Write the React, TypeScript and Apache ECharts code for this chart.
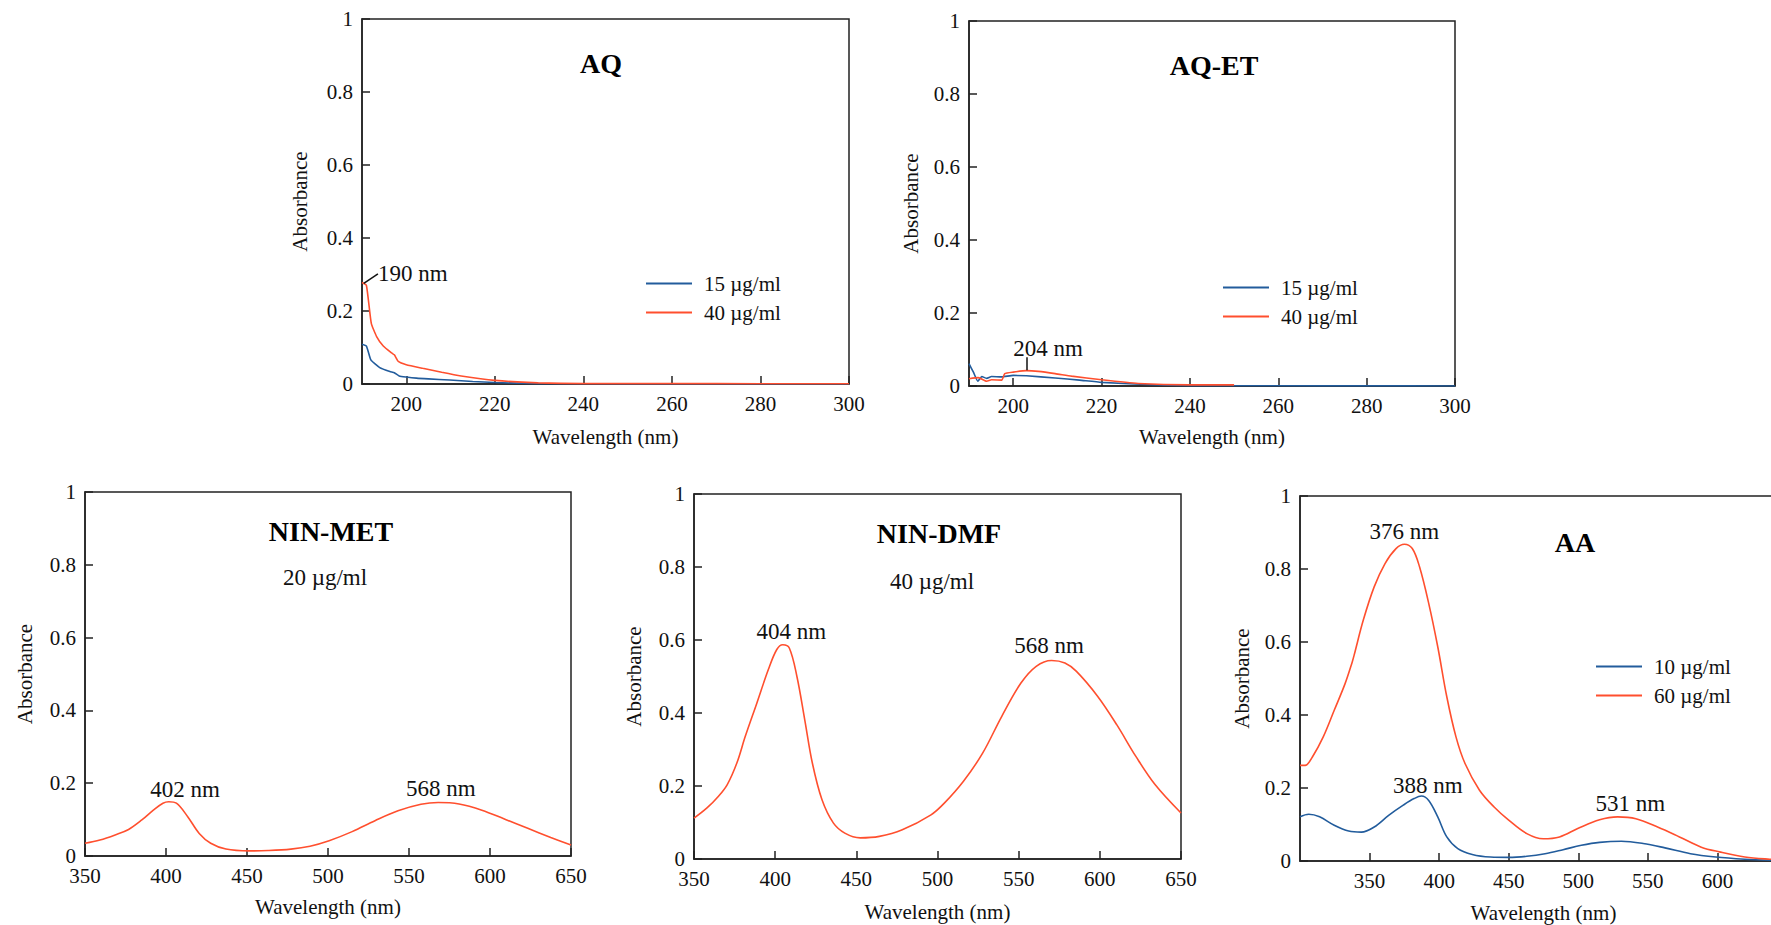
import React, { useEffect, useRef } from 'react';
import * as echarts from 'echarts';

const FONT = '"Liberation Serif", "Times New Roman", Times, serif';
const RED = '#ff4f2e';
const BLUE = '#225c9c';
const AXIS = '#222';

// ---- tick labels ----
const yTickLabels = ['0', '0.2', '0.4', '0.6', '0.8', '1'];
const xTicksAQ = [200, 220, 240, 260, 280, 300];
const xTicksNIN = [350, 400, 450, 500, 550, 600, 650];
const xTicksAA = [350, 400, 450, 500, 550, 600, 650];
const xLabelsAA = [350, 400, 450, 500, 550, 600];

// ---- AQ ----
const aq15: [number, number][] = [
  [190, 0.109], [191, 0.104], [192, 0.066], [194, 0.045], [196.3, 0.034], [197.3, 0.031],
  [198.4, 0.022], [200, 0.019], [202.3, 0.016], [205, 0.014], [209.8, 0.011], [215, 0.007],
  [220, 0.004], [230, 0.001], [240, 0.0005], [260, 0.0003], [280, 0.0002], [300, 0.0002],
];
const aq40: [number, number][] = [
  [190, 0.278], [191, 0.27], [192.1, 0.166], [193.3, 0.13], [194.8, 0.104], [196.7, 0.085],
  [197.3, 0.08], [198.2, 0.062], [200, 0.053], [203.7, 0.043], [208, 0.032], [212.4, 0.022],
  [220, 0.01], [229.7, 0.003], [240, 0.001], [260, 0.001], [280, 0.0008], [300, 0.0008],
];

// ---- AQ-ET ----
const aqet15: [number, number][] = [
  [190, 0.061], [191, 0.038], [192, 0.013], [192.9, 0.026], [194, 0.021], [195.1, 0.026],
  [197.4, 0.025], [200, 0.029], [203, 0.028], [209.5, 0.022], [215, 0.016], [220, 0.01],
  [230, 0.004], [240, 0.001], [260, 0.0005], [280, 0.0003], [300, 0.0002],
];
const aqet40: [number, number][] = [
  [190, 0.02], [192.1, 0.023], [194, 0.013], [195.1, 0.017], [197.4, 0.016], [198.1, 0.034],
  [200, 0.038], [203, 0.042], [205.7, 0.04], [209.5, 0.034], [213.2, 0.027], [220, 0.017],
  [228.3, 0.007], [240, 0.003], [250, 0.003],
];

// ---- NIN-MET (20 µg/ml) ----
const ninMet: [number, number][] = [
  [350, 0.035], [359.2, 0.044], [368.6, 0.058], [376.9, 0.073], [385.1, 0.099], [392.2, 0.126],
  [398.1, 0.145], [401.7, 0.149], [406.4, 0.145], [413.4, 0.108], [420.5, 0.062], [427.6, 0.035],
  [437, 0.019], [451.2, 0.014], [463, 0.015], [477.1, 0.019], [488.9, 0.027], [500.7, 0.042],
  [514.9, 0.067], [529, 0.097], [543.2, 0.124], [557.4, 0.142], [568, 0.147], [580.9, 0.143],
  [595, 0.126], [609.2, 0.101], [623.3, 0.076], [637.5, 0.051], [650, 0.03],
];

// ---- NIN-DMF (40 µg/ml) ----
const ninDmf: [number, number][] = [
  [350, 0.112], [358, 0.14], [365.1, 0.172], [370.5, 0.204], [376.4, 0.263], [381.6, 0.336],
  [388.7, 0.427], [395.8, 0.519], [401, 0.574], [404.7, 0.587], [408.7, 0.578], [413.4, 0.5],
  [418.2, 0.382], [422.9, 0.263], [428.8, 0.163], [435.8, 0.099], [442.9, 0.071], [452.4, 0.058],
  [464.2, 0.062], [478.3, 0.08], [496, 0.121], [504.2, 0.153], [516, 0.213], [527.8, 0.29],
  [539.6, 0.391], [551.4, 0.482], [560.8, 0.528], [570.3, 0.544], [578.5, 0.537], [585.6, 0.514],
  [598.6, 0.446], [610.4, 0.368], [622.2, 0.281], [634, 0.204], [650, 0.126],
];

// ---- AA ----
const aa10: [number, number][] = [
  [300, 0.121], [306.3, 0.128], [314.1, 0.121], [324.6, 0.098], [335, 0.082], [344.1, 0.079],
  [353.3, 0.093], [363.7, 0.125], [374.2, 0.153], [382, 0.171], [387.3, 0.178], [392.5, 0.166],
  [399, 0.121], [405.5, 0.066], [413.4, 0.034], [423.8, 0.018], [436.9, 0.011], [450, 0.01],
  [463, 0.013], [476.1, 0.02], [489.1, 0.031], [502.2, 0.043], [515.3, 0.051], [531, 0.054],
  [546.6, 0.048], [562.3, 0.036], [580.6, 0.02], [598.9, 0.011], [619.7, 0.005], [637.5, 0.002],
  [650, 0.001],
];
const aa60: [number, number][] = [
  [300, 0.262], [303.7, 0.262], [308.9, 0.285], [316.7, 0.34], [324.6, 0.413], [332.4, 0.486],
  [337.6, 0.546], [338.9, 0.564], [345.5, 0.66], [353.3, 0.751], [361.1, 0.815], [369, 0.856],
  [375, 0.868], [380.7, 0.856], [385.9, 0.806], [392.5, 0.706], [399, 0.587], [405.5, 0.45],
  [412.1, 0.34], [418.6, 0.267], [429, 0.194], [439.5, 0.148], [450, 0.112], [463, 0.075],
  [474.8, 0.061], [486.5, 0.066], [499.6, 0.089], [515.3, 0.113], [528.3, 0.121], [541.4, 0.116],
  [557, 0.093], [572.7, 0.066], [588.4, 0.038], [601.5, 0.025], [619.7, 0.011], [637.5, 0.005],
  [650, 0.003],
];

// ---- annotations (data coordinates of label centres / leader lines) ----
const aqNotes = [{ text: '190 nm', at: [201.5, 0.304] }];
const aqLeaders = [[[190.4, 0.276], [193.6, 0.302]]];
const aqetNotes = [{ text: '204 nm', at: [207.9, 0.103] }];
const aqetLeaders = [[[203, 0.043], [203, 0.079]]];
const ninMetNotes = [
  { text: '402 nm', at: [411.7, 0.183] },
  { text: '568 nm', at: [569.6, 0.186] },
];
const ninDmfNotes = [
  { text: '404 nm', at: [410, 0.622] },
  { text: '568 nm', at: [568.7, 0.584] },
];
const aa60Notes = [
  { text: '376 nm', at: [375, 0.902] },
  { text: '531 nm', at: [537.4, 0.157] },
];
const aa10Notes = [{ text: '388 nm', at: [391.9, 0.208] }];

type Ser = { name: string; data: [number, number][]; color: string; notes?: any[]; leaders?: any[] };

const panels: any[] = [
  {
    grid: { left: 362, top: 19, width: 487, height: 365 },
    xMin: 190, xMax: 300, xTicks: xTicksAQ, xLabels: xTicksAQ, xNameGap: 42, yNameGap: 52, smooth: 0.15,
    series: [
      { name: '15 µg/ml', data: aq15, color: BLUE },
      { name: '40 µg/ml', data: aq40, color: RED, notes: aqNotes, leaders: aqLeaders },
    ] as Ser[],
    legend: { left: 646, top: 273 },
    title: { text: 'AQ', x: 601, y: 63 },
  },
  {
    grid: { left: 969, top: 21, width: 486, height: 365 },
    xMin: 190, xMax: 300, xTicks: xTicksAQ, xLabels: xTicksAQ, xNameGap: 40, yNameGap: 48, smooth: 0.15,
    series: [
      { name: '15 µg/ml', data: aqet15, color: BLUE },
      { name: '40 µg/ml', data: aqet40, color: RED, notes: aqetNotes, leaders: aqetLeaders },
    ] as Ser[],
    legend: { left: 1223, top: 277 },
    title: { text: 'AQ-ET', x: 1214, y: 65 },
  },
  {
    grid: { left: 85, top: 492, width: 486, height: 364 },
    xMin: 350, xMax: 650, xTicks: xTicksNIN, xLabels: xTicksNIN, xNameGap: 40, yNameGap: 50, smooth: 0.35,
    series: [{ name: '20 µg/ml', data: ninMet, color: RED, notes: ninMetNotes }] as Ser[],
    title: { text: 'NIN-MET', x: 331, y: 531 },
    sub: { text: '20 µg/ml', x: 325, y: 577 },
  },
  {
    grid: { left: 694, top: 494, width: 487, height: 365 },
    xMin: 350, xMax: 650, xTicks: xTicksNIN, xLabels: xTicksNIN, xNameGap: 42, yNameGap: 50, smooth: 0.35,
    series: [{ name: '40 µg/ml', data: ninDmf, color: RED, notes: ninDmfNotes }] as Ser[],
    title: { text: 'NIN-DMF', x: 939, y: 533 },
    sub: { text: '40 µg/ml', x: 932, y: 581 },
  },
  {
    grid: { left: 1300, top: 496, width: 487, height: 365 },
    xMin: 300, xMax: 650, xTicks: xTicksAA, xLabels: xLabelsAA, xNameGap: 41, yNameGap: 48, smooth: 0.35,
    series: [
      { name: '10 µg/ml', data: aa10, color: BLUE, notes: aa10Notes },
      { name: '60 µg/ml', data: aa60, color: RED, notes: aa60Notes },
    ] as Ser[],
    legend: { left: 1596, top: 656 },
    title: { text: 'AA', x: 1575, y: 542 },
  },
];

function buildOption() {
  const grid: any[] = [];
  const xAxis: any[] = [];
  const yAxis: any[] = [];
  const series: any[] = [];
  const legend: any[] = [];
  const graphic: any[] = [];

  panels.forEach((p, i) => {
    grid.push({
      ...p.grid,
      show: true,
      borderColor: AXIS,
      borderWidth: 1.5,
      backgroundColor: 'transparent',
      containLabel: false,
      outerBoundsMode: 'none',
    });
    xAxis.push({
      type: 'value',
      gridIndex: i,
      min: p.xMin,
      max: p.xMax,
      name: 'Wavelength (nm)',
      nameLocation: 'middle',
      nameGap: p.xNameGap,
      nameTextStyle: { fontFamily: FONT, fontSize: 21, color: '#111' },
      axisLine: { show: true, lineStyle: { color: AXIS, width: 1.5 } },
      axisTick: { show: true, inside: true, length: 8, customValues: p.xTicks, lineStyle: { color: AXIS, width: 1.5 } },
      axisLabel: { show: true, customValues: p.xLabels, margin: 9, fontFamily: FONT, fontSize: 21, color: '#111' },
      splitLine: { show: false },
    });
    yAxis.push({
      type: 'value',
      gridIndex: i,
      min: 0,
      max: 1,
      interval: 0.2,
      name: 'Absorbance',
      nameLocation: 'middle',
      nameRotate: 90,
      nameGap: p.yNameGap,
      nameTextStyle: { fontFamily: FONT, fontSize: 21, color: '#111' },
      axisLine: { show: true, lineStyle: { color: AXIS, width: 1.5 } },
      axisTick: { show: true, inside: true, length: 8, lineStyle: { color: AXIS, width: 1.5 } },
      axisLabel: {
        show: true,
        margin: 9,
        fontFamily: FONT,
        fontSize: 21,
        color: '#111',
        formatter: (v: number) => yTickLabels[Math.round(v * 5)] ?? String(v),
      },
      splitLine: { show: false },
    });

    (p.series as Ser[]).forEach((s) => {
      const ser: any = {
        type: 'line',
        name: s.name,
        xAxisIndex: i,
        yAxisIndex: i,
        data: s.data,
        symbol: 'none',
        smooth: p.smooth,
        lineStyle: { color: s.color, width: 1.6 },
        itemStyle: { color: s.color },
        z: s.color === RED ? 3 : 2,
      };
      if (s.notes) {
        ser.markPoint = {
          silent: true,
          symbol: 'circle',
          symbolSize: 1,
          itemStyle: { color: 'rgba(0,0,0,0)' },
          data: s.notes.map((n: any) => ({
            coord: n.at,
            value: n.text,
            label: {
              show: true,
              position: 'inside',
              formatter: n.text,
              fontFamily: FONT,
              fontSize: 23,
              color: '#111',
            },
          })),
        };
      }
      if (s.leaders) {
        ser.markLine = {
          silent: true,
          symbol: ['none', 'none'],
          label: { show: false },
          lineStyle: { color: '#111', width: 1.5, type: 'solid' },
          data: s.leaders.map((l: any) => [{ coord: l[0] }, { coord: l[1] }]),
        };
      }
      series.push(ser);
    });

    if (p.legend) {
      legend.push({
        left: p.legend.left,
        top: p.legend.top,
        orient: 'vertical',
        padding: 0,
        icon: 'rect',
        itemWidth: 46,
        itemHeight: 2,
        itemGap: 8,
        selectedMode: false,
        data: (p.series as Ser[]).map((s) => ({ name: s.name, icon: 'rect', itemStyle: { color: s.color } })),
        textStyle: { fontFamily: FONT, fontSize: 21, color: '#111', padding: [0, 0, 0, 7], lineHeight: 21 },
      });
    }

    graphic.push({
      type: 'text',
      x: p.title.x,
      y: p.title.y,
      style: {
        text: p.title.text,
        align: 'center',
        verticalAlign: 'middle',
        fontFamily: FONT,
        fontSize: 28,
        fontWeight: 'bold',
        fill: '#000',
      },
    });
    if (p.sub) {
      graphic.push({
        type: 'text',
        x: p.sub.x,
        y: p.sub.y,
        style: {
          text: p.sub.text,
          align: 'center',
          verticalAlign: 'middle',
          fontFamily: FONT,
          fontSize: 23,
          fill: '#111',
        },
      });
    }
  });

  return {
    animation: false,
    backgroundColor: '#fff',
    textStyle: { fontFamily: FONT },
    grid,
    xAxis,
    yAxis,
    series,
    legend,
    graphic,
  };
}

export default function App() {
  const ref = useRef<HTMLDivElement>(null);
  useEffect(() => {
    document.body.style.margin = '0';
    document.body.style.overflow = 'hidden';
    if (!ref.current) return;
    const chart = echarts.init(ref.current, undefined, { renderer: 'svg' });
    chart.setOption(buildOption());
    return () => chart.dispose();
  }, []);
  return <div ref={ref} style={{ width: 1771, height: 925 }} />;
}
